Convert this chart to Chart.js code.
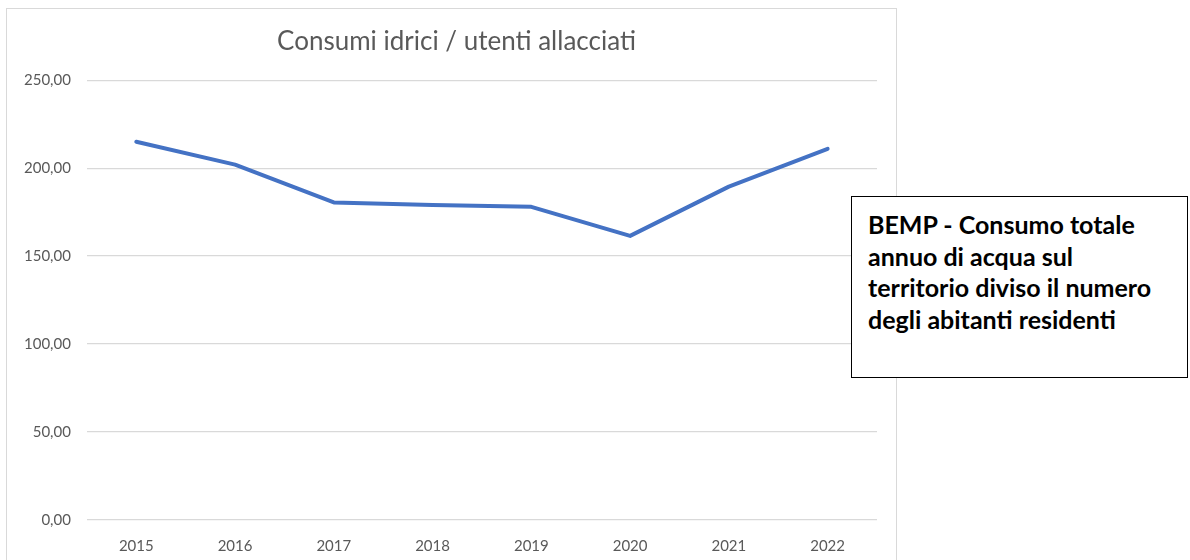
<!DOCTYPE html>
<html lang="it">
<head>
<meta charset="utf-8">
<script src="https://cdn.jsdelivr.net/npm/chart.js@4"></script>
<style>
  html, body { margin: 0; padding: 0; background: #fff; overflow: hidden; }
  body { width: 1190px; height: 560px; position: relative; }
  #frame {
    position: absolute; left: 6px; top: 8px; width: 891px; height: 570px;
    border: 1px solid #d9d9d9; box-sizing: border-box;
  }
  #wrap { position: absolute; left: 6px; top: 8px; width: 891px; height: 564px; }
  #note {
    position: absolute; left: 851px; top: 196px; width: 337px; height: 182px;
    box-sizing: border-box; border: 1.5px solid #000; background: #fff;
    padding: 12px 8px 0 16px; white-space: nowrap;
    font-family: Lato, "Open Sans", sans-serif; font-weight: bold;
    font-size: 25px; line-height: 31.7px; color: #000;
  }
</style>
</head>
<body>
<div id="frame"></div>
<div id="wrap"><canvas id="chart"></canvas></div>
<div id="note">BEMP - Consumo totale<br>annuo di acqua sul<br>territorio diviso il numero<br>degli abitanti residenti</div>
<script>
// dati
const years = ['2015', '2016', '2017', '2018', '2019', '2020', '2021', '2022'];
const consumi = [215.0, 202.0, 180.5, 179.0, 178.0, 161.5, 189.5, 211.0];
const yTicks = [0, 50, 100, 150, 200, 250];

const fmt = v => v.toFixed(2).replace('.', ',');

// in Excel il titolo non è centrato sul canvas: lo spostiamo un po' a destra
const titleShift = {
  id: 'titleShift',
  afterLayout(c) {
    if (c.titleBlock) c.titleBlock.left += 28;
  }
};

const ctx = document.getElementById('chart').getContext('2d');
const chart = new Chart(ctx, {
  type: 'line',
  data: {
    labels: years,
    datasets: [{
      label: 'Consumi idrici / utenti allacciati',
      data: consumi,
      borderColor: '#4472C4',
      borderWidth: 4,
      pointRadius: 0,
      borderCapStyle: 'round',
      borderJoinStyle: 'round',
      tension: 0,
      fill: false
    }]
  },
  options: {
    responsive: true,
    maintainAspectRatio: false,
    animation: false,
    layout: { padding: { left: 2, right: 20, top: 10, bottom: 0 } },
    plugins: {
      legend: { display: false },
      tooltip: { enabled: false },
      title: {
        display: true,
        text: 'Consumi idrici / utenti allacciati',
        color: '#595959',
        font: { family: 'Lato', size: 26, weight: 'normal' },
        padding: { top: 8, bottom: 23 }
      }
    },
    scales: {
      x: {
        offset: true,
        grid: { display: false, drawTicks: false },
        border: { display: false },
        ticks: {
          color: '#595959',
          font: { family: 'Lato', size: 15 },
          padding: 17
        }
      },
      y: {
        min: 0,
        max: 250,
        afterBuildTicks: axis => { axis.ticks = yTicks.map(v => ({ value: v })); },
        grid: { color: '#d9d9d9', lineWidth: 1.3, drawTicks: false },
        border: { display: false },
        ticks: {
          color: '#595959',
          font: { family: 'Lato', size: 15 },
          padding: 16,
          callback: v => fmt(v)
        }
      }
    }
  },
  plugins: [titleShift]
});
</script>
</body>
</html>
